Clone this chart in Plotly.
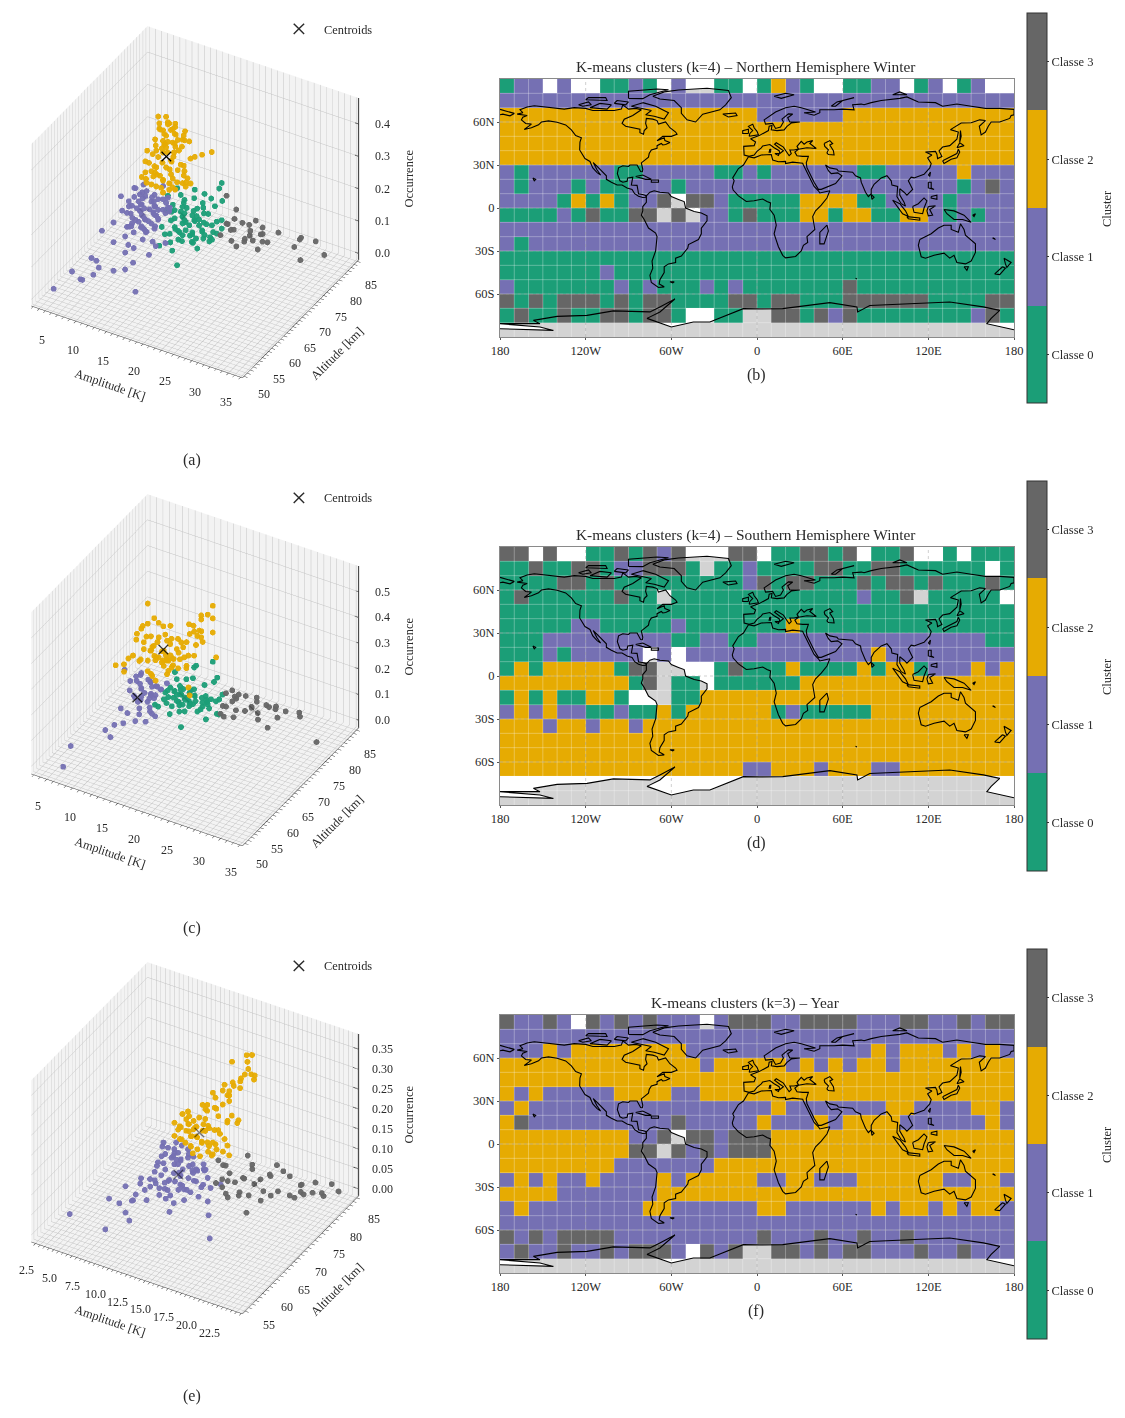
import plotly.graph_objects as go

# Cluster colours, index = class number
CLASS_COLORS = ["#1b9e77", "#7570b3", "#e6ab02", "#666666"]
CLASS_NAMES = ["Classe 0", "Classe 1", "Classe 2", "Classe 3"]
CODE = {"g": 0, "p": 1, "o": 2, "d": 3, ".": None}
SERIF = "Liberation Serif"
TEXT = "#2a2a2a"

# Cluster label per 10x10 degree cell, north to south, 180W to 180E
GRID_NH = [
    "gpp.p..ggpg.p..gg." + "gopg..ggpp.gp.gp..", "p" * 36,
    "o" * 18 + "pppppp" + "o" * 12, "o" * 36, "o" * 36, "o" * 36,
    "pgppppppggpppppggp" + "gppppppggpppppoppp",
    "pgpppgpggpppgppppp" + "p" * 14 + "gpdp",
    "ppppgogogppd.ddpgg" + "gggooooggppppgpppp",
    "ggggpgdggdd.d.ppgd" + "gggoogooggoopgpgpp",
    "p" * 36, "pg" + "p" * 34, "g" * 36, "g" * 7 + "p" + "g" * 28,
    "pgggggggpgpgggpgpg" + "gggggg" + "d" + "g" * 11,
    "dgdgdddgdgddggggdd" + "gddgggddddddggggdd",
    "gdggdggddgddg..gg." + ".ddgdpdggggggggpdg", "." * 36,
]
GRID_SH = [
    "dd.d..ggdgdpd...dd" + ".ggddgd.ggd..g.ggg",
    "ggdggddgppdddg.ggp" + "ggggddggddgggggg.g",
    "ggggddgdgggggggggp" + "dgddgggdgddgdgggdg",
    "gdggggggdgg.gggggg" + "gggggggpggd.ggggg.",
    "g" * 36,
    "gggggppgggggpggggg" + "ggo" + "g" * 15,
    "gggpppppppppggppgg" + "p" * 16 + "gg",
    "gggpgppppp.p.ppppp" + "p" * 8 + "o" + "p" * 9,
    "gogooooogdd....gdg" + "ggoggggogoogpppopo",
    "ooooooooogd.gg.ggg" + "ggg" + "o" * 15,
    "gogoggoog...ggoooo" + "o" * 18,
    "popoppggpggogooooo" + "ogpggggg" + "o" * 10,
    "ooopoopoopoooooooo" + "o" * 18,
    "o" * 36, "o" * 36,
    "o" * 17 + "p" + "pooopooopp" + "o" * 8,
    "." * 36, "." * 36,
]
GRID_YEAR = [
    "dppdp.dpdpdppp.pdd" + "dppddddpppddppdpdd", "p" * 36,
    "pppopoooooooopppppp"[:18] + "ppppppppopooopopop",
    "o" * 14 + "pooo" + "oopopopoopoooooooo", "o" * 36,
    "opopppppooooppoooo" + "o" * 18,
    "po" + "p" * 16 + "pop" + "p" * 6 + "oopppp" + "oop",
    "od" + "p" * 10 + "d" + "p" * 5 + "opppopoooopppppp" + "op",
    "o" * 9 + "ppd.ddpdd" + "d" + "o" * 17,
    "o" * 9 + "dd.dpdpdd" + "d" + "o" * 17,
    "o" * 8 + "p" * 7 + "ooo" + "o" * 18,
    "popoppoppppopooooo" + "ppooppp" + "oooooo" + "ppoop",
    "oooo" + "p" * 7 + "o" * 7 + "o" * 18,
    "po" + "p" * 8 + "oo" + "p" * 6 + "oo" + "p" * 6 + "opoopopoop"[:10],
    "p" * 36,
    "dpdpdddd" + "p" * 10 + "dpppdppdppd" + "p" * 7,
    "pdppdppdpdddp.dpd." + ".ddpdpddpppdppdppp", "." * 36,
]

# Amplitude [K], altitude [km], occurrence for each cluster
NH_GREEN = [(19.6,75,.221),(19.7,74,.214),(15.2,75,.172),(17.3,74,.182),(12.3,75,.158),(11.3,74,.138),(12.9,75,.141),(14,74,.142),(15.1,75,.145),(17,74,.152),(17.9,75,.162),(19,74,.155),(19.7,75,.166),(12.1,74,.115),(13.2,75,.106),(14,74,.101),(15.6,75,.116),(17.2,74,.121),(10.5,75,.079),(11.9,74,.092),(12.9,75,.089),(13.7,74,.089),(14.8,75,.09),(16.4,74,.097),(17.4,75,.111),(19.3,74,.109),(19.6,75,.106),(10.3,74,.035),(11.3,75,.052),(12.4,74,.048),(13.5,75,.066),(14.8,74,.069),(15.9,75,.066),(16.9,74,.067),(18,75,.08),(19.3,74,.072),(10.3,75,.003),(11.6,74,.022),(12.7,75,.024),(13.7,74,.031),(14.8,75,.032),(15.9,74,.035),(17.7,75,.041),(18.5,74,.048),(19.6,75,.08),(13.9,66,.077),(15.2,67,.086),(16,66,.075),(16.5,67,.103),(17.6,66,.115),(18.9,67,.108),(20.1,66,.108),(21.6,67,.13),(16.8,66,.035),
            (12.4,74,.1),(13.4,75,.12),(14.4,74,.12),(15,75,.105),(16,74,.105),(16.6,75,.125),(12.4,74,.075),(13.2,75,.075),(14.2,74,.075),(15.2,75,.075),(15.6,74,.09),(16.7,75,.08),(17.6,74,.09),(12,75,.03),(13,74,.04),(13.2,75,.055),(14.2,74,.05),(14.4,75,.025),(15.3,74,.05),(16.4,75,.05),(17.3,74,.055),(18.2,75,.06),(15.2,74,.02),(16.6,75,.03)]
NH_PURPLE = [(3.6,52,.012),(6.1,53,.072),(8,52,.07),(7.8,53,.057),(9.8,52,.147),(10.1,53,.131),(10.1,52,.097),(10.5,53,.112),(13.4,52,.131),(14.8,53,.134),(17,52,.089),(6.5,62,.114),(7.9,63,.139),(8.4,62,.091),(10.3,63,.085),(10.3,62,.071),(11.2,63,.081),(11.6,62,.048),(13.7,63,.076),(10.3,62,.121),(10.8,63,.146),(13.2,62,.13),(14.3,63,.121),(15.3,62,.123),(16.4,63,.13),(5.6,70,.138),(7.3,71,.165),(8,70,.178),(8.8,71,.185),(9.8,70,.181),(12,71,.201),(6.9,70,.131),(8.2,71,.151),(9.6,70,.164),(10.6,71,.165),(11.7,70,.168),(12.8,71,.17),(6.9,70,.115),(8,71,.128),(9,70,.135),(10.1,71,.141),(11.2,70,.143),(12.5,71,.152),(13.6,70,.154),(5.3,71,.082),(6.6,70,.093),(7.7,71,.105),(8.8,70,.112),(9.8,71,.115),(10.9,70,.12),(12,71,.128),(7.5,70,.083),(8.5,71,.089),(9.6,70,.091),(10.6,71,.103),(11.7,70,.105),(13,71,.129),(6.9,70,.052),(8,71,.065),(9,70,.067),(10.1,71,.073),(11.2,70,.081),(8.8,71,.049),(9.8,70,.055),(6.1,71,.037),
             (7.8,70,.15),(8.6,71,.16),(9.2,70,.155),(10.2,71,.155),(11,70,.155),(12,71,.16),(7.4,70,.12),(8.4,71,.12),(9.4,70,.125),(10.6,71,.13),(11.7,70,.135),(12.8,71,.14),(7.2,70,.095),(8.2,71,.1),(9.2,70,.1),(10.4,71,.11),(11.4,70,.115),(12.4,71,.12),(8,70,.08),(9,71,.08),(10.1,70,.09),(11.2,71,.095),(7.4,70,.065),(8.4,71,.05),(9.4,70,.06),(10.6,71,.06),(7.7,70,.04),(9.2,71,.04)]
NH_ORANGE = [(10.7,72,.398),(11.5,73,.393),(10.9,72,.378),(11.8,73,.378),(12.3,72,.384),(13,73,.381),(13.5,72,.384),(10.4,73,.349),(11.5,72,.361),(12.6,73,.362),(13.4,72,.362),(14.6,73,.368),(10.2,72,.324),(11.2,73,.338),(12,72,.347),(13.1,73,.348),(13.9,72,.346),(14.4,73,.354),(15,72,.352),(15.3,73,.341),(10.3,72,.306),(11,73,.315),(11.8,72,.32),(12.6,73,.32),(13.4,72,.331),(14.2,73,.339),(10.4,72,.291),(11.5,73,.298),(12.2,72,.297),(13.6,73,.302),(9.8,72,.276),(8.4,73,.268),(17.9,72,.326),(19,73,.332),(16,72,.302),(16.2,73,.299),(8.6,72,.246),(11,73,.279),(12.8,72,.275),(12.8,73,.291),(10.4,72,.239),(9.6,73,.228),(8.6,72,.212),(9.1,73,.209),(10.2,72,.221),(11.5,73,.236),(12.6,72,.247),(13.9,73,.26),(15,72,.257),(7.5,73,.181),(8.7,72,.192),(10,73,.204),(11,72,.217),(12.3,73,.22),(13.1,72,.222),(14.4,73,.23),(15.5,72,.238),(8.3,73,.168),(9.6,72,.181),(11,73,.195),(12.6,72,.203),(14.2,73,.205),(15.2,72,.21),(10.7,73,.168),(11.5,72,.168),(12.6,73,.181),
             (11,72,.36),(12,73,.375),(12.8,72,.37),(11.2,73,.305),(12.3,72,.33),(13,73,.31),(14.6,72,.33),(10.8,73,.29),(13.2,72,.29),(10.2,73,.26),(11.4,72,.26),(12.4,73,.26),(9.2,72,.245),(13.4,73,.24),(11.5,72,.205),(12,73,.19),(13.8,72,.215),(9.4,73,.195),(10.4,72,.18),(12,73,.17),(13.5,72,.19),(14.7,73,.21),(16,72,.225),(14.4,73,.26)]
NH_GREY = [(18.9,78,.148),(20,79,.103),(17.9,78,.02),(18.6,79,.049),(18.9,78,.062),(19.7,79,.072),(20.1,78,.051),(19.1,79,.034),(21.5,78,.081),(22.1,79,.069),(23.7,78,.102),(24.3,79,.075),(24.8,78,.068),(22.3,79,.052),(21.9,78,.034),(21.3,79,.012),(20.5,78,.002),(19.2,79,.001),(24,78,.015),(24.3,79,.031),(25.6,78,.047),(26.9,79,.076),(30,78,.061),(30.6,79,.084),(30.9,78,.09),(33,79,.088),(31,78,.027),(34.4,79,.055),(22.7,78,.049),(24,79,.052),(23.2,78,.037)]
NH_CENTROIDS = [(14,74,.09),(9.5,70,.11),(11.9,72.5,.276),(23,78,.05)]

SH_GREEN = [(15.8,75,.189),(17.9,76,.21),(12.5,75,.136),(15,76,.163),(15.3,75,.136),(18.6,76,.154),(12.8,75,.111),(13.8,76,.107),(17.1,75,.125),(18.1,76,.133),(11.8,75,.07),(12.8,76,.072),(13.8,75,.081),(15,76,.078),(11,75,.044),(12,76,.046),(13.3,75,.057),(14.3,76,.059),(15.6,75,.069),(16.8,76,.067),(18.1,75,.078),(19.4,76,.095),(10.8,75,.016),(11.8,76,.018),(12.8,75,.026),(14,76,.03),(15.3,75,.035),(16.3,76,.037),(17.6,75,.054),(18.9,76,.072),(12.3,69,.081),(13.6,70,.086),(14.9,69,.097),(16.1,70,.101),(17.6,69,.12),(19.2,70,.12),(20.7,69,.138),(12.3,70,.061),(14.6,69,.064),(15.6,70,.07),(16.9,69,.094),(18.4,70,.094),(20.2,69,.091),(21.7,70,.111),(21.9,69,.127),(17.3,67,.061),
            (11.5,75,.03),(12.3,76,.033),(12.4,75,.06),(13,76,.04),(13.4,75,.075),(13.6,76,.025),(14,75,.05),(14.5,76,.07),(14.7,75,.04),(15.1,76,.055),(11.4,75,.055),(12.6,76,.009),(13.2,75,.013),(14.4,76,.018),(15.7,75,.05),(16.2,76,.055),(16.5,75,.025),(17,76,.045),(17.4,75,.07),(18.4,76,.06)]
SH_PURPLE = [(6.6,71,.144),(8.6,72,.128),(9.2,71,.153),(7,72,.091),(8.4,71,.133),(10.2,72,.115),(11.7,71,.121),(12.7,72,.131),(9.2,71,.094),(10.4,72,.098),(11.4,71,.086),(7.6,72,.038),(9.2,71,.061),(10.2,72,.063),(11.2,71,.072),(9.7,72,.033),(8.9,71,.013),(8.2,72,.02),(10.9,63,.11),(9.4,64,.103),(12.8,67,.074),(12,68,.065),(10.8,67,.055),(9.7,68,.007),(11.8,67,.035),(12.8,68,.052),(10.8,59,.112),(11.7,60,.114),(9.4,59,.08),(9.7,60,.043),(6.9,53,.07),(6.7,51,.012),
             (8.2,71,.05),(8.7,72,.075),(9.7,71,.08),(10,72,.05),(10.7,71,.085),(11,72,.105),(9,71,.11),(9.8,72,.12),(10.6,71,.13),(8,72,.1),(7.4,71,.07),(8.6,72,.03),(10.5,71,.03),(11.8,72,.1),(12.2,71,.115)]
SH_ORANGE = [(8.3,75,.367),(17.9,76,.428),(17.6,75,.403),(16.1,76,.375),(16.6,75,.376),(8.8,76,.302),(7.5,75,.273),(7.8,76,.272),(10.7,75,.299),(17.9,76,.379),(14.7,75,.341),(14.9,76,.325),(16.6,75,.33),(6.8,76,.244),(14.8,75,.304),(15,76,.303),(11,75,.269),(17.9,76,.324),(6.6,75,.235),(12.5,76,.253),(6.5,75,.211),(8.3,76,.227),(9.8,75,.23),(10.8,76,.231),(14.3,75,.268),(16.1,76,.29),(16.8,75,.29),(7.2,76,.195),(9,75,.204),(11.3,76,.222),(12.8,75,.228),(15.3,76,.253),(6,75,.145),(7.2,76,.168),(8.8,75,.188),(10.3,76,.188),(11.8,75,.195),(13.3,76,.227),(14.6,75,.218),(15,76,.209),(18.9,75,.248),(4.8,76,.111),(3.3,75,.084),(4.1,76,.082),(4.6,75,.07),(6.5,76,.116),(8.3,75,.145),(9.5,76,.155),(11.3,75,.17),(12.8,76,.176),(14.3,75,.176),(7.8,76,.087),(8.8,75,.097),(10.3,76,.129),(11.5,75,.133),(8.5,76,.074),(9.5,75,.077),(10.8,76,.101),(14.6,75,.094),(14.3,76,.048),(9.3,75,.172),(10.8,76,.159),(12.3,75,.185),(10,76,.14),(12,75,.15),
             (9,76,.14),(9.6,75,.17),(10.2,76,.15),(10.5,75,.2),(11,76,.155),(11.1,75,.19),(11.7,76,.17),(12.2,75,.16),(12.6,76,.2),(13,75,.155),(13.5,76,.19),(9.2,75,.21),(8.2,76,.17),(7.2,75,.14),(13.8,76,.15),(10,75,.25),(11.5,76,.245),(13.5,75,.26),(15.5,76,.29),(16.3,75,.33),(9.5,76,.29),(11.8,75,.31),(7.6,76,.22)]
SH_GREY = [(18.5,79,.056),(19,80,.059),(20.5,79,.068),(19.4,80,.038),(20.1,79,.048),(21.1,80,.055),(18,79,.002),(19,80,.016),(18.5,79,.004),(22.8,80,.063),(23.3,79,.064),(22,80,.021),(22.5,79,.033),(24.3,80,.047),(25.2,79,.059),(25.8,80,.054),(26.2,79,.059),(27.3,80,.048),(26.5,79,.029),(29.4,80,.061),(30,79,.063),(26.9,75,.042),(34.5,75,.051),(24.9,76,.07),(25.4,75,.061),(19.1,76,.018),(20.1,75,.027),(21.5,76,.052),(21.6,75,.038),(22.9,76,.061)]
SH_CENTROIDS = [(14,75,.05),(8.7,71,.052),(10.8,75,.209),(23,79,.027)]

YEAR_PURPLE = [(8.2,74,.087),(7.7,75,.064),(8.7,74,.078),(9.2,75,.086),(8,74,.051),(9,75,.068),(9.8,74,.074),(10.5,75,.079),(7.6,74,.033),(8.7,75,.044),(9.6,74,.055),(10.5,75,.058),(11.4,74,.057),(12.2,75,.055),(12.6,74,.054),(7.1,75,.011),(8.4,74,.021),(9.4,75,.033),(10.3,74,.036),(11.4,75,.036),(12.8,74,.055),(8.8,66,.073),(9.9,67,.089),(11,66,.098),(12,67,.102),(13.1,66,.114),(14.1,67,.119),(8.7,66,.059),(9.4,67,.067),(10.4,66,.073),(11.5,67,.081),(12.5,66,.094),(13.6,67,.102),(14.8,66,.112),(15.7,67,.119),(9.2,66,.047),(10.4,67,.052),(11.7,66,.066),(12.7,67,.079),(13.8,66,.083),(15.2,67,.098),(16.4,66,.108),(17.1,67,.114),(9.4,66,.023),(10.4,67,.035),(11.5,66,.043),(12.5,67,.064),(13.5,66,.055),(14.7,67,.064),(16.1,66,.072),(12,67,.027),(11.9,66,.013),(15.8,67,.026),(18.6,60,.052),(9,61,.099),(10.5,60,.099),(7.2,61,.054),(8.7,60,.063),(9.7,61,.068),(10.2,60,.082),(9,61,.033),(9.8,60,.028),(5.2,55,.053),(8.7,56,.033),
               (8.4,74,.06),(8.9,75,.05),(9.4,74,.07),(9.7,75,.045),(10.1,74,.06),(10.6,75,.068),(11,74,.05),(11.1,75,.065),(8.2,74,.035),(9,75,.03),(9.9,74,.025),(11,75,.03),(11.9,74,.045),(12.3,75,.04),(10.2,74,.095),(10.3,66,.08),(11,67,.07),(11.8,66,.09),(12.7,67,.1),(13.3,66,.09),(14.2,67,.1),(9.8,66,.06),(11,67,.055),(12,66,.055),(13.1,67,.07),(14.2,66,.08),(15,67,.09)]
YEAR_ORANGE = [(17.3,74,.377),(17.5,75,.37),(15.7,74,.348),(17,75,.349),(17.1,74,.327),(17.1,75,.332),(17.8,74,.333),(17.8,75,.321),(18.1,74,.322),(16.3,75,.302),(16.6,74,.306),(15.4,75,.285),(15.9,74,.289),(14.5,75,.272),(15.4,74,.272),(16.2,75,.277),(13.6,74,.254),(14.3,75,.256),(15.2,74,.26),(15,75,.249),(13,74,.219),(13.5,75,.232),(13.8,74,.218),(14.3,75,.221),(15.4,74,.247),(12.1,75,.203),(12.8,74,.206),(13.6,75,.205),(14.2,74,.2),(15.3,75,.201),(16.4,74,.207),(15.9,75,.187),(15.2,74,.196),(12.6,75,.192),(12.1,74,.18),(10.5,75,.174),(11,74,.175),(9.9,75,.163),(9.4,74,.146),(10.3,75,.153),(11.5,74,.167),(12.4,75,.17),(13.1,74,.167),(14,75,.145),(9.8,74,.132),(10.6,75,.143),(11.5,74,.146),(12.2,75,.155),(9.4,74,.113),(10.3,75,.124),(11.2,74,.126),(12.1,75,.138),(13.6,74,.129),(14.5,75,.136),(15.2,74,.134),(9.8,75,.099),(10.6,74,.105),(11.5,75,.117),(12.4,74,.119),(10.8,75,.09),(11.9,74,.099),(12.8,75,.105),(12.2,74,.084),(13.1,75,.084),(13.6,74,.1),(15,75,.099),(14,74,.115),
               (9.6,75,.13),(10.1,74,.14),(10.6,75,.125),(10.9,74,.155),(11.3,75,.14),(11.8,74,.13),(12.4,75,.14),(11.8,74,.155),(12.8,75,.15),(10,74,.11),(10.9,75,.115),(11.2,74,.1),(12,75,.11),(13,74,.125),(12.7,75,.09),(11.4,74,.085),(13.5,75,.115),(14.7,74,.115),(13.4,75,.15),(14.2,74,.165),(14.8,75,.18)]
YEAR_GREY = [(15.9,78,.079),(12.3,79,.03),(13.2,78,.034),(13.1,79,.023),(13.9,78,.019),(16,79,.048),(16.4,78,.049),(18.7,79,.068),(18.3,78,.05),(19.4,79,.058),(20.5,78,.063),(18,79,.035),(15.5,78,.018),(15,79,.007),(14.5,78,.001),(16,72,.069),(15,73,.057),(14.7,72,.054),(15.4,73,.024),(16,72,.028),(16.9,73,.039),(17.2,72,.042),(17.9,73,.039),(16.6,78,.013),(16.9,79,.018),(17.6,78,.003),(20.7,72,.069),(19.2,78,.015),(20.1,79,.003),(21,78,.013),(21.3,79,.021),(22,78,.029),(22.6,79,.029),(21.8,78,.052),(21.3,79,.038),(23.3,78,.069),(23.8,79,.03),(24,78,.048),(24.7,79,.067),(24.3,82,.019),(19.6,72,.048),(18.8,70,.029),(15,73,.037)]
YEAR_CENTROIDS = [(9.8,74,.019),(12.2,74,.143),(16.7,78,.013)]

# Axis limits, tick positions and labels of the three 3D panels
PANELS_3D = [
    dict(key="scene", top=2, clusters=[(0, NH_GREEN), (1, NH_PURPLE), (2, NH_ORANGE), (3, NH_GREY)],
         centroids=NH_CENTROIDS, alphas=[.1, .1, 1, .1],
         xr=[1.7, 36.3], yr=[48.5, 86.5], zr=[-.02, .48], xt=list(range(2, 37)), xlab=[5, 10, 15, 20, 25, 30, 35], xfmt="{:.0f}",
         yt=list(range(49, 87)), ylab=[50, 55, 60, 65, 70, 75, 80, 85], zt=[0, .1, .2, .3, .4], zfmt="{:.1f}", ref=0),
    dict(key="scene2", top=470, clusters=[(0, SH_GREEN), (1, SH_PURPLE), (2, SH_ORANGE), (3, SH_GREY)],
         centroids=SH_CENTROIDS, alphas=[.1, .8, .8, .25],
         xr=[2.6, 35.4], yr=[49.25, 86.75], zr=[-.03, .6], xt=list(range(3, 36)), xlab=[5, 10, 15, 20, 25, 30, 35], xfmt="{:.0f}",
         yt=list(range(50, 87)), ylab=[50, 55, 60, 65, 70, 75, 80, 85], zt=[0, .1, .2, .3, .4, .5], zfmt="{:.1f}", ref=468),
    dict(key="scene3", top=938, clusters=[(1, YEAR_PURPLE), (2, YEAR_ORANGE), (3, YEAR_GREY)],
         centroids=YEAR_CENTROIDS, alphas=[.5, .5, .2],
         xr=[2.04, 25.14], yr=[52.24, 85.6], zr=[-.0175, .388], xt=[2.5 + .5 * i for i in range(46)],
         xlab=[2.5, 5, 7.5, 10, 12.5, 15, 17.5, 20, 22.5], xfmt="{:.1f}",
         yt=list(range(53, 86)), ylab=[55, 60, 65, 70, 75, 80, 85], zt=[0, .05, .1, .15, .2, .25, .3, .35], zfmt="{:.2f}", ref=936),
]

# Coastline rings as (lon, lat)
N_AMERICA = [(-168,65.5),(-164,66.5),(-166,68.5),(-161,70.5),(-156,71.3),(-150,70.5),(-141,69.7),(-135,69),(-128,70),(-120,69.5),(-115,68),(-108,68),(-100,68),(-95,69),(-94,72),(-90,69),(-85,69.5),(-81,68.5),(-85,66),(-87,64.5),(-93,62),(-94.5,59),(-92,57),(-85,55.3),(-82,55),(-82,52.5),(-79.5,51.5),(-79,54),(-77,56),(-78,59),(-77.5,62.5),(-73,62),(-70,61),(-69,58.5),(-65.5,59.5),(-64,60),(-61,56),(-57,53),(-56,51.5),(-60,50),(-66,50),(-70,47),(-65,49),(-64.5,47),(-61,45.7),(-64,44.3),(-66,44),(-67,45),(-70,43.5),(-70,41.7),(-74,40.5),(-75.5,38),(-76,35.5),(-78,34),(-81,31.5),(-80,27),(-80.3,25.3),(-81.5,25.5),(-82.8,28),(-84,30),(-89,30),(-90,29),(-94,29.5),(-97,28),(-97.8,24),(-96,19),(-94,18),(-91,18.7),(-90.5,21),(-87,21.5),(-88,16),(-84,15.8),(-83.3,12),(-83,10),(-79.5,9.3),(-77.5,8.5),(-78,7.5),(-80,7.3),(-83,8.2),(-85.7,10),(-87.5,13),(-91,14),(-94.5,16),(-98,16),(-102,18),(-105.5,20),(-105.5,22.5),(-109,25.7),(-112.5,29.5),(-114.7,31.7),(-112,26.5),(-109.5,23),(-112,24.7),(-115,28),(-117,32.5),(-120.5,34.5),(-122.5,37.7),(-124.2,40.5),(-124,46),(-123,49),(-127,50.5),(-130,54.5),(-134,58),(-140,59.8),(-146,60.8),(-151,60),(-153,58),(-158,56),(-163,54.8),(-158,58.5),(-162,59),(-165,61.5),(-164,63.3),(-161,64.5),(-168,65.5)]
S_AMERICA = [(-77.5,8.5),(-75,11),(-72,12),(-68,11),(-62,10.5),(-60,8),(-55,6),(-51,4.5),(-50,0),(-44,-2.5),(-39,-3.5),(-35,-5.5),(-35,-9),(-39,-14),(-39,-18),(-41,-22),(-48,-25.5),(-48.5,-28),(-53,-33.5),(-57,-35),(-57,-38),(-62,-39),(-65,-41),(-65,-45),(-68,-50),(-68.5,-53),(-65,-55),(-69,-55.5),(-74,-52),(-75,-47),(-73,-42),(-73.5,-37),(-71,-30),(-70,-20),(-71,-17.5),(-76,-14),(-79,-8),(-81,-5),(-80,-2),(-80,1),(-77.5,4),(-77.5,7),(-77.5,8.5)]
AFRICA = [(-6,35.8),(-2,35),(3,37),(10,37.3),(11,33.5),(15,32.3),(20,32.5),(20,31),(25,32),(32,31.2),(32.5,30),(34,27),(37,21),(38,18),(40,15),(43,12),(44,10.5),(51,12),(49,7),(45,2),(41,-2),(39,-6),(40,-11),(40.5,-15),(35,-20),(35.5,-24),(32.5,-26),(31,-30),(27,-33.8),(20,-34.8),(18,-33),(15,-27),(12,-18),(13.5,-12),(12,-5),(9,-1),(9.5,3.5),(7,4.5),(4,6.3),(-2,5),(-7.5,4.5),(-13,8.5),(-16.7,12.5),(-17.3,14.7),(-16,19),(-17,21),(-13,27.5),(-9.5,30),(-6,35.8)]
EURASIA = [(-5.5,36),(-9,37),(-9.3,43),(-2,43.5),(-1,46),(-4.5,48.3),(1.5,50.5),(4,52),(8,54),(8.5,57),(10.5,57.5),(10,54.5),(14,54),(19,54.5),(21,57),(24,59.3),(30,60),(23,60),(21.5,63),(25,65.5),(22,65.7),(17.5,62),(18.5,60),(16.5,56.5),(13,55.5),(11,59),(6,58.5),(5,61.5),(13,67),(20,70),(26,71),(31,70),(41,67),(33,66.5),(40,64.7),(44,66.5),(44,68.5),(54,68.5),(60,69),(68,68.5),(67,72),(73,72.5),(75,72),(80,73.5),(87,75),(100,76.5),(105,77.5),(113,74),(125,73.5),(130,71),(140,72.5),(150,71),(160,69.5),(170,69.5),(180,68.8),(180,65),(178,64.5),(177,62.5),(170,60),(164,60),(162,57),(160,53),(157,51),(155.7,57),(160,61),(156,61.5),(150,59.5),(143,59.3),(135.5,54.7),(141,53),(140,48),(135,43.5),(130,42.5),(127.5,39.8),(129.5,36),(126.5,34.5),(126,37.5),(125,39.5),(121,39),(118,39),(122.5,37),(119.5,35),(122,31),(121,28),(117,23.5),(110,21),(108,21.5),(106,19),(109,13),(105,9),(103,11),(100,13.5),(100,9),(103,4),(104,1.3),(101,3),(98,8),(98.5,15),(94.5,16),(94,19),(91,22.5),(87,21),(82,16.5),(80,13),(80,10),(78,8),(76,11),(73,18),(72.5,21),(69,22.5),(67,25),(61,25.3),(57,25.8),(56,27),(51,28),(48,30),(50,26),(52,24),(56.5,24.5),(59.5,22.5),(55,17),(45,13),(43,13),(40,18),(37,24),(35,28),(34.5,31.5),(36,36),(32,36),(28,36.5),(26.5,39),(29,41),(35,42),(41.5,41.5),(37,45),(39,47),(35,46),(33,44.5),(31,46.5),(28,43),(29,41.2),(26,40.5),(23,40.5),(24,38),(22.5,36.5),(19.5,41),(18.5,42.5),(13.5,45.5),(12.3,44.5),(16,41.7),(18.5,40),(16,38),(15.5,40),(12,42),(9,44.3),(4,43.3),(3,42),(0,39.5),(-2,37),(-5.5,36)]
CHUKOTKA = [(-180,68.8),(-175,67.5),(-170,66),(-173,64.3),(-178,65.5),(-180,65)]
CASPIAN = [(47,45),(51,47),(53,45),(51,44),(53.5,40),(54,37),(50,37.3),(49,38.5),(50,40.5),(47.5,43),(47,45)]
GREENLAND = [(-73,78),(-65,81),(-55,82.3),(-35,83.5),(-20,82),(-18,77),(-22,72),(-26,68.5),(-38,65.5),(-43,60),(-49,61.5),(-53,66),(-53,70),(-58,75),(-68,76),(-73,78)]
AUSTRALIA = [(114,-22),(113,-26),(115,-34),(118,-35),(124,-33),(131,-31.5),(135,-35),(138,-33),(140,-38),(146,-39),(150,-37),(153,-31),(153,-25),(146,-19),(145,-15),(142.5,-11),(141,-17),(136,-15),(136,-12),(131,-12),(127,-14),(122,-18),(114,-22)]
ANTARCTICA = [(-180,-84.2),(-142.6,-85.4),(-152,-83),(-180,-80.7),(-152,-80.7),(-156.6,-78.4),(-140,-75.6),(-119,-74.9),(-100.6,-71.8),(-75,-72.5),(-68,-69),(-57.5,-63.5),(-68,-72.5),(-77,-77),(-60,-83),(-44.6,-79.5),(-33,-79.5),(-19,-73.7),(-9.6,-70.2),(2,-70.4),(18,-70.2),(51,-66),(70,-69),(70.5,-72.5),(79,-68),(135,-65.6),(158.5,-69),(170,-71.4),(164,-77),(161,-80.7),(180,-85)]
ISLANDS = [
    [(-80,73.5),(-71,71),(-62,66.5),(-65,62),(-72,64),(-78,65),(-74,68),(-88,71),(-80,73.5)],
    [(-90,76.5),(-80,76.3),(-75,79),(-62,82.5),(-70,83),(-90,81.5),(-90,76.5)],
    [(-125,72),(-118,74),(-116,72),(-122,71),(-125,72)],
    [(-117,70),(-105,69),(-102,72),(-110,73),(-117,70)],
    [(-100,73),(-92,72),(-90,74),(-98,75),(-100,73)],
    [(-120,75.5),(-105,75),(-106,77),(-118,77),(-120,75.5)],
    [(-5.5,50),(1,51),(0,53.5),(-2,56),(-3,58.5),(-6,57),(-3,54),(-5,52),(-5.5,50)],
    [(-6,52),(-6,55),(-10,54),(-10,52),(-6,52)],
    [(-24,65.5),(-15,66.3),(-14,64.5),(-20,63.5),(-24,65.5)],
    [(12,78),(20,80),(26,79),(17,76.5),(12,78)],
    [(52,71),(56,74),(68,77),(60,75),(55,71),(52,71)],
    [(95,79),(105,79),(100,81),(95,79)],
    [(49,-12),(50,-16),(47,-25),(44,-25),(44,-17),(49,-12)],
    [(145,-41),(148,-41),(147,-43.5),(145,-41)],
    [(173,-35),(178,-38),(175,-41.5),(174,-39),(173,-35)],
    [(172,-41),(174,-42),(170,-46.5),(166.5,-46),(172,-41)],
    [(131,-1),(138,-2),(145,-5),(150,-10),(144,-8),(138,-8),(133,-4),(131,-1)],
    [(109,1),(113,3),(117,7),(119,5),(117,0),(116,-4),(110,-3),(109,1)],
    [(95,5.5),(100,3),(104,-2),(106,-6),(102,-4),(98,1),(95,5.5)],
    [(105,-6),(114,-7),(114,-8.5),(106,-7.5),(105,-6)],
    [(120,1),(125,1.5),(121,-1),(123,-5),(120,-5.5),(119,-2),(120,1)],
    [(120,18),(122,18),(122,14),(124,13),(120,14),(120,18)],
    [(122,8),(126,9),(126,6),(122,7),(122,8)],
    [(130,33),(135,35.5),(140,38),(141,41),(142,39),(140,35),(136,34),(131,31),(130,33)],
    [(140,42),(142,45.5),(145,43.5),(141,42),(140,42)],
    [(142,46),(142.5,54),(143,50),(142,46)],
    [(120,23),(121.5,25),(121,22),(120,23)],
    [(80,9.5),(82,7.5),(80.5,6),(80,9.5)],
    [(-85,22),(-80,23),(-74,20),(-78,20),(-85,22)],
    [(-74,19.5),(-69,19.5),(-69,18),(-74,18),(-74,19.5)],
    [(-61,-51.5),(-58,-51.5),(-59,-52.3),(-61,-51.5)],
    [(69,-49),(70,-49.5),(69.5,-49.8),(69,-49)],
    [(9,41),(9.7,41),(9.5,39),(8.5,39),(9,41)],
    [(12.5,38),(15.5,38),(15,36.7),(12.5,38)],
    [(-157,21),(-155,20),(-156,19),(-157,21)],
    [(166,-21),(167,-22),(165,-21),(166,-21)],
    [(151,-5),(153,-4),(152,-6),(151,-5)],
]
COAST_RINGS = [N_AMERICA, S_AMERICA, AFRICA, EURASIA, CHUKOTKA, CASPIAN, GREENLAND, AUSTRALIA, ANTARCTICA] + ISLANDS
LAND_RINGS = [N_AMERICA, S_AMERICA, AFRICA, EURASIA, GREENLAND, AUSTRALIA, ANTARCTICA + [(180, -90), (-180, -90), (-180, -84.2)]] + ISLANDS

MAP_TITLES = ["K-means clusters (k=4) \u2013 Northern Hemisphere Winter",
              "K-means clusters (k=4) \u2013 Southern Hemisphere Winter",
              "K-means clusters (k=3) \u2013 Year"]
GRIDS = [GRID_NH, GRID_SH, GRID_YEAR]
LON_TICKS = [-180, -120, -60, 0, 60, 120, 180]
LON_LABELS = ["180", "120W", "60W", "0", "60E", "120E", "180"]
LAT_TICKS = [-60, -30, 0, 30, 60]
LAT_LABELS = ["60S", "30S", "0", "30N", "60N"]
LON_CENTERS = [-175 + 10 * i for i in range(36)]
LAT_CENTERS = [85 - 10 * i for i in range(18)]
W, H = 1125, 1418
EYE = 2.3


def px_x(p):
    return p / W


def px_y(p):
    return 1 - p / H


def flatten(rings):
    lon, lat = [], []
    for ring in rings:
        lon += [p[0] for p in ring] + [None]
        lat += [p[1] for p in ring] + [None]
    return lon, lat


def segments(xs, ys):
    lon, lat = [], []
    for x in xs:
        lon += [x, x, None]
        lat += [-90, 90, None]
    for y in ys:
        lon += [-180, 180, None]
        lat += [y, y, None]
    return lon, lat


def page_text(text, x, y, size=12.4, anchor="center", angle=0):
    return dict(text=text, x=px_x(x), y=px_y(y), xref="paper", yref="paper", showarrow=False, xanchor=anchor,
                yanchor="middle", textangle=angle, font=dict(size=size, family=SERIF, color=TEXT))


def scene_text(text, x, y, z, dx, dy, size=12, angle=0, color=TEXT, opacity=1):
    return dict(text=text, x=x, y=y, z=z, xshift=dx, yshift=dy, showarrow=False, textangle=angle, opacity=opacity,
                xanchor="center", yanchor="middle", font=dict(size=size, family=SERIF, color=color))


def axis3d(rng, vals):
    return dict(title=dict(text=""), range=rng, autorange=False, tickmode="array", tickvals=vals,
                ticktext=["" for _ in vals], showticklabels=False, showbackground=True, backgroundcolor="#f3f3f3",
                gridcolor="#c2c2c2", gridwidth=1, showline=True, linecolor="#333333", zeroline=False,
                ticks="outside", ticklen=4, tickcolor="#333333", showspikes=False)


fig = go.Figure()
layout = dict(width=W, height=H, margin=dict(l=0, r=0, t=0, b=0, autoexpand=False), paper_bgcolor="white",
              plot_bgcolor="white", font=dict(family=SERIF, color=TEXT, size=12), hovermode=False, annotations=[])

# 3D scatter panels
for p in PANELS_3D:
    for cls, pts in p["clusters"]:
        fig.add_trace(go.Scatter3d(x=[q[0] for q in pts], y=[q[1] for q in pts], z=[q[2] for q in pts], mode="markers",
                                   marker=dict(size=3.4, color=CLASS_COLORS[cls], opacity=.95, line=dict(width=0)),
                                   scene=p["key"], showlegend=False))
    xr, yr, zr = p["xr"], p["yr"], p["zr"]
    # Vertical axis on the right-hand edge with its ticks
    zx, zy, zz = [xr[1], xr[1], None], [yr[1], yr[1], None], [zr[0], zr[1], None]
    for v in p["zt"]:
        zx += [xr[1] - .6, xr[1], None]
        zy += [yr[1], yr[1], None]
        zz += [v, v, None]
    fig.add_trace(go.Scatter3d(x=zx, y=zy, z=zz, mode="lines", line=dict(color="#333333", width=2),
                               scene=p["key"], showlegend=False))
    notes = []
    for v in p["xlab"]:
        notes.append(scene_text(p["xfmt"].format(v), v, yr[0], zr[0], -9, -27))
    for v in p["ylab"]:
        notes.append(scene_text(str(v), xr[1], v, zr[0], 17, -21))
    for v in p["zt"]:
        notes.append(scene_text(p["zfmt"].format(v), xr[1], yr[1], v, 24, 0))
    notes.append(scene_text("Amplitude [K]", (xr[0] + xr[1]) / 2, yr[0], zr[0], -27, -43, size=12.5, angle=19))
    notes.append(scene_text("Altitude [km]", xr[1], (yr[0] + yr[1]) / 2, zr[0], 36, -35, size=12.5, angle=-45))
    notes.append(scene_text("Occurrence", xr[1], yr[1], (zr[0] + zr[1]) / 2, 50, 0, size=12.5, angle=-90))
    for c, a in zip(p["centroids"], p["alphas"]):
        notes.append(scene_text("\u00d7", c[0], c[1], c[2], 0, 0, size=26, color="black", opacity=a))
    top = p["top"]
    zaxis = axis3d(zr, p["zt"])
    zaxis.update(showline=False, ticks="")
    layout[p["key"]] = dict(
        domain=dict(x=[0, px_x(390)], y=[px_y(top + 400), px_y(top)]),
        aspectmode="manual", aspectratio=dict(x=1.22, y=1.16, z=1.0),
        camera=dict(eye=dict(x=.405 * EYE, y=-.70 * EYE, z=.588 * EYE), up=dict(x=0, y=0, z=1),
                    projection=dict(type="orthographic")),
        xaxis=axis3d(xr, p["xt"]), yaxis=axis3d(yr, p["yt"]), zaxis=zaxis, annotations=notes,
    )
    layout["annotations"].append(page_text("\u00d7", 299, p["ref"] + 29, size=28))
    layout["annotations"].append(page_text("Centroids", 322, p["ref"] + 30, anchor="left"))

# Cluster maps: land below, cells, grid and coastline above
for i, (grid, title) in enumerate(zip(GRIDS, MAP_TITLES)):
    off = 468 * i
    base = 2 * i + 1
    xb, yb = ("x", "y") if base == 1 else (f"x{base}", f"y{base}")
    xo, yo = f"x{base + 1}", f"y{base + 1}"
    land_lon, land_lat = flatten(LAND_RINGS)
    fig.add_trace(go.Scatter(x=land_lon, y=land_lat, mode="lines", fill="toself", fillcolor="#d3d3d3",
                             line=dict(width=0, color="#d3d3d3"), xaxis=xb, yaxis=yb, showlegend=False))
    z = [[CODE[ch] for ch in row] for row in grid]
    cb = dict(tickmode="array", tickvals=[0, 1, 2, 3], ticktext=CLASS_NAMES, ticks="outside", ticklen=2,
              tickcolor="#333333", tickfont=dict(size=12.5, family=SERIF, color=TEXT),
              x=px_x(1027), xanchor="left", xpad=0, y=px_y(208 + off), yanchor="middle", ypad=0,
              lenmode="pixels", len=390, thicknessmode="pixels", thickness=20,
              outlinecolor="#333333", outlinewidth=1)
    scale = []
    for k, col in enumerate(CLASS_COLORS):
        scale += [[k / 4, col], [(k + 1) / 4, col]]
    fig.add_trace(go.Heatmap(x=LON_CENTERS, y=LAT_CENTERS, z=z, zmin=-.5, zmax=3.5, colorscale=scale, colorbar=cb,
                             xaxis=xo, yaxis=yo, hoverongaps=False, showscale=True))
    cell_lon, cell_lat = segments([-180 + 10 * k for k in range(1, 36)], [-90 + 10 * k for k in range(1, 18)])
    fig.add_trace(go.Scatter(x=cell_lon, y=cell_lat, mode="lines", line=dict(color="rgba(255,255,255,.3)", width=1),
                             xaxis=xo, yaxis=yo, showlegend=False))
    maj_lon, maj_lat = segments(LON_TICKS[1:-1], LAT_TICKS)
    fig.add_trace(go.Scatter(x=maj_lon, y=maj_lat, mode="lines",
                             line=dict(color="rgba(150,150,150,.45)", width=1, dash="dot"),
                             xaxis=xo, yaxis=yo, showlegend=False))
    c_lon, c_lat = flatten(COAST_RINGS)
    fig.add_trace(go.Scatter(x=c_lon, y=c_lat, mode="lines", line=dict(color="black", width=1.1),
                             xaxis=xo, yaxis=yo, showlegend=False))
    dom_x = [px_x(500), px_x(1014)]
    dom_y = [px_y(337 + off), px_y(79 + off)]
    name_x = "xaxis" if base == 1 else f"xaxis{base}"
    name_y = "yaxis" if base == 1 else f"yaxis{base}"
    layout[name_x] = dict(domain=dom_x, range=[-180, 180], tickmode="array", tickvals=LON_TICKS, ticktext=LON_LABELS,
                          showgrid=False, zeroline=False, showline=True, mirror=True, linecolor="#8a8a8a",
                          ticks="outside", ticklen=2, tickcolor="#555", anchor=yb,
                          tickfont=dict(size=12.5, family=SERIF, color=TEXT))
    layout[name_y] = dict(domain=dom_y, range=[-90, 90], tickmode="array", tickvals=LAT_TICKS, ticktext=LAT_LABELS,
                          showgrid=False, zeroline=False, showline=True, mirror=True, linecolor="#8a8a8a",
                          ticks="outside", ticklen=2, tickcolor="#555", anchor=xb,
                          tickfont=dict(size=12.5, family=SERIF, color=TEXT))
    layout[f"xaxis{base + 1}"] = dict(domain=dom_x, range=[-180, 180], overlaying=xb, visible=False, anchor=yo)
    layout[f"yaxis{base + 1}"] = dict(domain=dom_y, range=[-90, 90], overlaying=yb, visible=False, anchor=xo)
    layout["annotations"].append(page_text(title, 745, 67 + off, size=15.4))
    layout["annotations"].append(page_text("(" + "bdf"[i] + ")", 756, 375 + off, size=16))
    layout["annotations"].append(page_text("(" + "ace"[i] + ")", 192, 460 + off, size=16))
    layout["annotations"].append(page_text("Cluster", 1107, 209 + off, size=12.5, angle=-90))

fig.update_layout(**layout)
fig.write_html("out.html")
